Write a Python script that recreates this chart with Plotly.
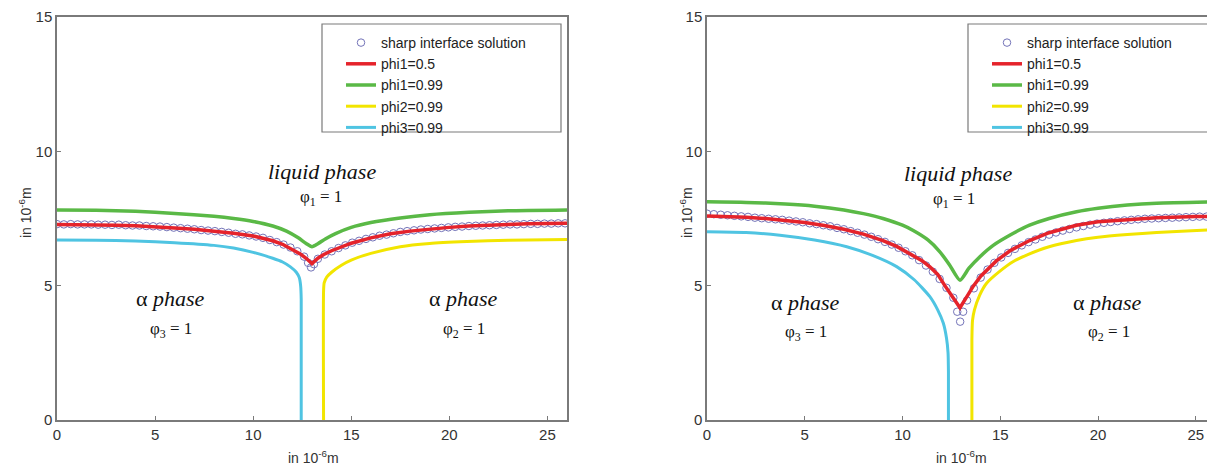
import plotly.graph_objects as go

W, H = 1207, 467

# ---------------- data: left panel ----------------
circ_x = [0.0, 0.35, 0.7, 1.05, 1.4, 1.75, 2.1, 2.45, 2.8, 3.15, 3.5, 3.85, 4.2, 4.55, 4.9,
          5.25, 5.6, 5.95, 6.3, 6.65, 7.0, 7.35, 7.7, 8.05, 8.4, 8.75, 9.1, 9.45, 9.8, 10.15,
          10.5, 10.85, 11.2, 11.55, 11.9, 12.25, 12.6, 12.95, 13.3, 13.65, 14.0, 14.35, 14.7,
          15.05, 15.4, 15.75, 16.1, 16.45, 16.8, 17.15, 17.5, 17.85, 18.2, 18.55, 18.9, 19.25,
          19.6, 19.95, 20.3, 20.65, 21.0, 21.35, 21.7, 22.05, 22.4, 22.75, 23.1, 23.45, 23.8,
          24.15, 24.5, 24.85, 25.2, 25.55, 25.9, 12.8, 13.1]

circ_y_L = [7.29, 7.28, 7.29, 7.28, 7.28, 7.28, 7.27,
            7.27, 7.26, 7.27, 7.25, 7.24, 7.24,
            7.22, 7.21, 7.20, 7.18, 7.16, 7.14,
            7.12, 7.10, 7.07, 7.05, 7.03, 7.00,
            6.97, 6.93, 6.91, 6.87, 6.83, 6.78,
            6.70, 6.62, 6.53, 6.42, 6.28, 6.08,
            5.68,
            6.00, 6.16, 6.28, 6.40, 6.50, 6.60,
            6.67, 6.74, 6.80, 6.86, 6.90, 6.95,
            7.00, 7.03, 7.06, 7.09, 7.11, 7.13,
            7.15, 7.17, 7.19, 7.20, 7.22, 7.23,
            7.24, 7.25, 7.26, 7.27, 7.28, 7.28,
            7.29, 7.30, 7.30, 7.31, 7.31, 7.32,
            7.32, 5.85, 5.80]

red_x_L = [0, 1, 2, 3, 4, 5, 6, 7, 8, 9, 10, 10.5, 11, 11.5, 12, 12.4, 12.7, 13.0, 13.3,
           13.6, 14, 14.5, 15, 16, 17, 18, 19, 20, 21, 22, 23, 24, 25, 26]
red_y_L = [7.28, 7.28, 7.27, 7.25, 7.23, 7.20, 7.15, 7.10, 7.03, 6.95, 6.85, 6.77, 6.67,
           6.54, 6.36, 6.18, 6.02, 5.82, 6.02, 6.16, 6.30, 6.45, 6.58, 6.78, 6.93, 7.03,
           7.11, 7.17, 7.22, 7.26, 7.28, 7.30, 7.31, 7.32]

green_x_L = [0, 2, 4, 6, 8, 9, 10, 11, 11.7, 12.3, 12.7, 13.0, 13.3, 13.7, 14.2, 15, 16,
             17.5, 19, 21, 23, 26]
green_y_L = [7.82, 7.81, 7.77, 7.69, 7.58, 7.50, 7.39, 7.22, 7.03, 6.78, 6.57, 6.45, 6.56,
             6.75, 6.94, 7.17, 7.35, 7.52, 7.64, 7.73, 7.79, 7.82]

yellow_x_L = [13.59, 13.59, 13.62, 13.75, 14.0, 14.5, 15, 16, 17.5, 19, 20.9, 23, 26]
yellow_y_L = [0.0, 4.8, 5.1, 5.32, 5.5, 5.76, 5.95, 6.2, 6.45, 6.57, 6.64, 6.69, 6.72]

cyan_x_L = [0, 2, 4, 6, 8, 9, 10, 11, 11.5, 11.9, 12.2, 12.35, 12.42, 12.45, 12.45]
cyan_y_L = [6.70, 6.69, 6.66, 6.60, 6.50, 6.40, 6.24, 6.02, 5.88, 5.70, 5.50, 5.30, 5.0,
            4.5, 0.0]

# ---------------- data: right panel ----------------
circ_y_R = [7.68, 7.66, 7.64, 7.62, 7.60, 7.58, 7.56,
            7.53, 7.51, 7.49, 7.47, 7.45, 7.42,
            7.39, 7.36, 7.32, 7.29, 7.25, 7.21,
            7.15, 7.10, 7.03, 6.97, 6.90, 6.82,
            6.73, 6.63, 6.53, 6.41, 6.28, 6.13,
            5.95, 5.75, 5.52, 5.25, 4.92, 4.55,
            3.66,
            4.45, 4.90, 5.30, 5.60, 5.85, 6.05,
            6.22, 6.37, 6.50, 6.62, 6.72, 6.82,
            6.90, 6.98, 7.05, 7.11, 7.17, 7.22,
            7.27, 7.31, 7.34, 7.37, 7.40, 7.43,
            7.45, 7.47, 7.49, 7.50, 7.51, 7.52,
            7.53, 7.54, 7.55, 7.56, 7.57, 7.57,
            7.58, 4.03, 4.03]

red_x_R = [0, 1, 2, 3, 4, 5, 6, 7, 8, 9, 9.7, 10.5, 11, 11.4, 11.8, 12.15, 12.5, 12.94,
           13.3, 13.62, 14.0, 14.8, 15.5, 16.5, 17.5, 18.9, 20, 21.5, 23, 25, 26]
red_y_R = [7.59, 7.58, 7.55, 7.50, 7.43, 7.35, 7.24, 7.10, 6.92, 6.68, 6.46, 6.15, 5.93,
           5.70, 5.42, 5.02, 4.65, 4.18, 4.60, 4.98, 5.35, 5.92, 6.30, 6.68, 6.97, 7.25,
           7.38, 7.47, 7.53, 7.57, 7.58]

green_x_R = [0, 2, 4, 5.5, 7, 8, 9, 10, 10.55, 11.3, 11.9, 12.4, 12.94, 13.4, 13.96, 14.64,
             15.67, 16.5, 17.5, 18.9, 20, 21.5, 23, 26]
green_y_R = [8.12, 8.10, 8.04, 7.96, 7.82, 7.68, 7.50, 7.25, 7.05, 6.70, 6.27, 5.78, 5.20,
             5.65, 6.08, 6.50, 6.95, 7.25, 7.50, 7.75, 7.88, 8.00, 8.07, 8.12]

yellow_x_R = [13.55, 13.55, 13.58, 13.68, 13.95, 14.3, 15.0, 15.67, 16.35, 17.5, 18.9, 20,
              21.5, 23, 25.6, 26]
yellow_y_R = [0.0, 3.0, 3.7, 4.1, 4.65, 5.09, 5.55, 5.90, 6.14, 6.45, 6.68, 6.80, 6.90,
              6.98, 7.07, 7.08]

cyan_x_R = [0, 2, 3.73, 5.5, 7.15, 8.5, 9.7, 10.6, 11.4, 11.8, 12.09, 12.25, 12.33, 12.35,
            12.35]
cyan_y_R = [7.01, 6.98, 6.88, 6.70, 6.45, 6.12, 5.71, 5.22, 4.59, 4.10, 3.60, 3.05, 2.50,
            1.80, 0.0]

x_ticks = [0, 5, 10, 15, 20, 25]
y_ticks = [0, 5, 10, 15]
names = ["sharp interface solution", "phi1=0.5", "phi1=0.99", "phi2=0.99", "phi3=0.99"]

# ---------------- styles ----------------
C_CIRC = "#7373b8"
C_RED = "#e5232b"
C_GREEN = "#5ab946"
C_YELLOW = "#f2e500"
C_CYAN = "#4fc4e2"
AX = "#7a7a7a"

fig = go.Figure()


def add_panel(xa, ya, legend, cy, rx, ry, gx, gy, yx, yy, cx2, cy2):
    common = dict(xaxis=xa, yaxis=ya, legend=legend)
    fig.add_trace(go.Scatter(x=circ_x, y=cy, mode="markers", name=names[0],
                             marker=dict(symbol="circle-open", size=7.5, color=C_CIRC,
                                         line=dict(width=1)), **common))
    fig.add_trace(go.Scatter(x=rx, y=ry, mode="lines", name=names[1],
                             line=dict(color=C_RED, width=3.5), **common))
    fig.add_trace(go.Scatter(x=gx, y=gy, mode="lines", name=names[2],
                             line=dict(color=C_GREEN, width=3.5, shape="spline",
                                       smoothing=0.6), **common))
    fig.add_trace(go.Scatter(x=yx, y=yy, mode="lines", name=names[3],
                             line=dict(color=C_YELLOW, width=3, shape="spline",
                                       smoothing=0.6), **common))
    fig.add_trace(go.Scatter(x=cx2, y=cy2, mode="lines", name=names[4],
                             line=dict(color=C_CYAN, width=3, shape="spline",
                                       smoothing=0.6), **common))


add_panel("x", "y", "legend", circ_y_L, red_x_L, red_y_L, green_x_L, green_y_L,
          yellow_x_L, yellow_y_L, cyan_x_L, cyan_y_L)
add_panel("x2", "y2", "legend2", circ_y_R, red_x_R, red_y_R, green_x_R, green_y_R,
          yellow_x_R, yellow_y_R, cyan_x_R, cyan_y_R)


def px(x):
    return x / W


def py(y):
    return 1 - y / H


sans = "Arial, Liberation Sans"
ser = "Liberation Serif, Times New Roman, serif"

axis_common = dict(showline=True, linecolor=AX, linewidth=1.5, mirror=True,
                   ticks="inside", ticklen=4, tickcolor=AX, showgrid=False,
                   zeroline=False, automargin=False,
                   tickfont=dict(family=sans, size=15, color="#333333"))

y_dom = [py(420), py(17)]
leg_font = dict(family=sans, size=14, color="#222222")
fig.update_layout(
    width=W, height=H, autosize=False,
    paper_bgcolor="white", plot_bgcolor="white",
    margin=dict(l=0, r=0, t=0, b=0, pad=0, autoexpand=False),
    showlegend=True,
    xaxis=dict(domain=[px(57), px(567)], range=[0, 26], tickvals=x_ticks, anchor="y",
               **axis_common),
    yaxis=dict(domain=y_dom, range=[0, 15], tickvals=y_ticks, anchor="x", **axis_common),
    xaxis2=dict(domain=[px(707), 1.0], range=[0, (W - 707) / 19.55], tickvals=x_ticks,
                anchor="y2", **axis_common),
    yaxis2=dict(domain=y_dom, range=[0, 15], tickvals=y_ticks, anchor="x2", **axis_common),
    legend=dict(x=px(341), y=py(27), xanchor="left", yanchor="top",
                bgcolor="rgba(0,0,0,0)", borderwidth=0, tracegroupgap=0, font=leg_font),
    legend2=dict(x=px(987), y=py(27), xanchor="left", yanchor="top",
                 bgcolor="rgba(0,0,0,0)", borderwidth=0, tracegroupgap=0, font=leg_font),
)

# legend frames
for x0, x1 in [(322, 561), (968, 1212)]:
    fig.add_shape(type="rect", xref="paper", yref="paper", x0=px(x0), x1=px(x1),
                  y0=py(132), y1=py(24), line=dict(color=AX, width=1.2),
                  fillcolor="white", layer="below")


def ann(x, y, text, size, family=ser, angle=0, color="#111111"):
    fig.add_annotation(x=px(x), y=py(y), xref="paper", yref="paper", text=text,
                       showarrow=False, textangle=angle,
                       font=dict(family=family, size=size, color=color),
                       xanchor="center", yanchor="middle")


# axis titles
for cx in (25, 686):
    ann(cx, 213, "in 10<sup>-6</sup>m", 14, sans, -90, "#333333")
for cx in (313, 961):
    ann(cx, 457, "in 10<sup>-6</sup>m", 14, sans, 0, "#333333")

# region labels
ann(322, 171, "<i>liquid phase</i>", 22)
ann(321, 198, "φ<sub>1</sub> = 1", 17)
ann(170, 298, "α <i>phase</i>", 22)
ann(171, 330, "φ<sub>3</sub> = 1", 17)
ann(463, 298, "α <i>phase</i>", 22)
ann(464, 330, "φ<sub>2</sub> = 1", 17)

ann(958, 174, "<i>liquid phase</i>", 22)
ann(954, 200, "φ<sub>1</sub> = 1", 17)
ann(806, 302, "α <i>phase</i>", 22)
ann(806, 333, "φ<sub>3</sub> = 1", 17)
ann(1107, 302, "α <i>phase</i>", 22)
ann(1109, 333, "φ<sub>2</sub> = 1", 17)

fig.write_html("out.html", config={"displayModeBar": False},
               post_script="document.body.style.margin='0px';"
                           "document.body.style.overflow='hidden';")
